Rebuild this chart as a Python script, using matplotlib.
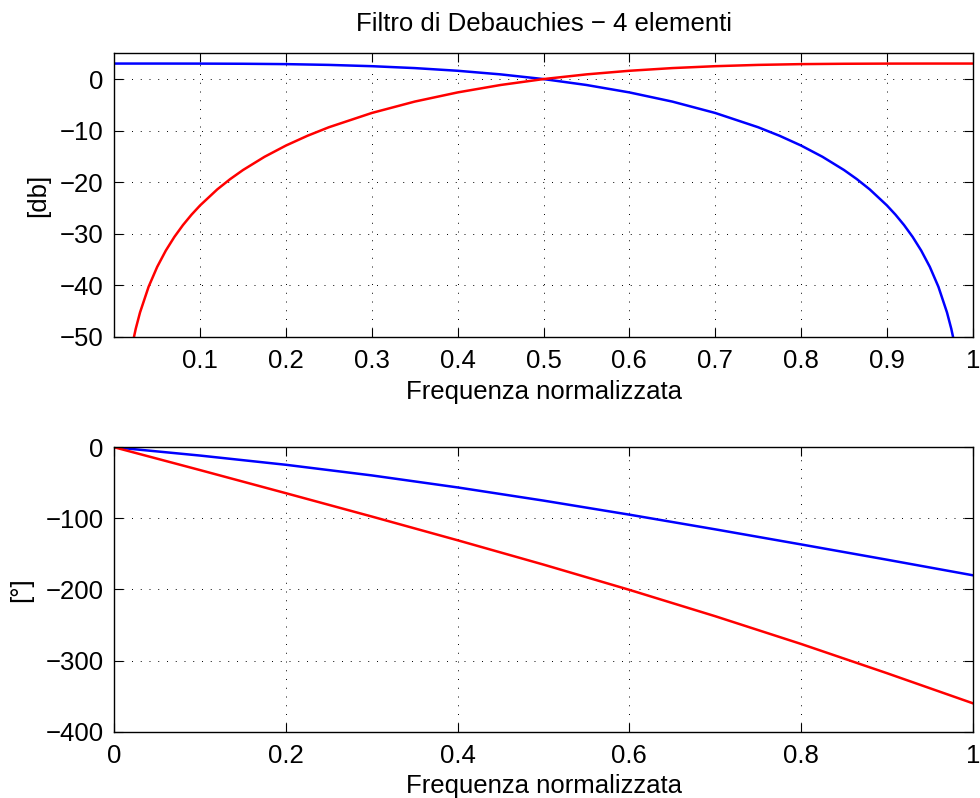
import matplotlib
matplotlib.use("Agg")
import matplotlib.pyplot as plt

plt.rcParams['font.family'] = ['Liberation Sans', 'DejaVu Sans']
plt.rcParams['axes.unicode_minus'] = True

# --- data: magnitude [dB] ---
freq_lo = [0.0, 0.05, 0.1, 0.15, 0.2, 0.25, 0.3, 0.35, 0.4, 0.45, 0.5, 0.55, 0.6,
           0.65, 0.7, 0.75, 0.775, 0.8, 0.825, 0.85, 0.865, 0.88, 0.9, 0.91, 0.92,
           0.93, 0.94, 0.95, 0.96, 0.97, 0.975, 0.98]
mag_lo = [3.01, 3.01, 3.00, 2.97, 2.90, 2.75, 2.50, 2.13, 1.61, 0.91, 0.0, -1.15, -2.59,
          -4.37, -6.58, -9.35, -11.01, -12.90, -15.09, -17.65, -19.42, -21.41, -24.52, -26.32, -28.34,
          -30.64, -33.30, -36.45, -40.31, -45.30, -48.47, -52.34]

freq_hi = [0.02, 0.025, 0.03, 0.04, 0.05, 0.06, 0.07, 0.08, 0.09, 0.1, 0.12, 0.135,
           0.15, 0.175, 0.2, 0.225, 0.25, 0.3, 0.35, 0.4, 0.45, 0.5, 0.55, 0.6,
           0.65, 0.7, 0.75, 0.8, 0.85, 0.9, 0.95, 1.0]
mag_hi = [-52.34, -48.47, -45.30, -40.31, -36.45, -33.30, -30.64, -28.34, -26.32, -24.52, -21.41, -19.42,
          -17.65, -15.09, -12.90, -11.01, -9.35, -6.58, -4.37, -2.59, -1.15, 0.0, 0.91, 1.61,
          2.13, 2.50, 2.75, 2.90, 2.97, 3.00, 3.01, 3.01]

# --- data: phase [deg] ---
freq_ph = [0.0, 0.1, 0.2, 0.3, 0.4, 0.5, 0.6, 0.7, 0.8, 0.9, 1.0]
phase_lo = [0.0, -11.66, -24.63, -39.57, -56.47, -75.0, -94.76, -115.4, -136.62, -158.1, -180.0]
phase_hi = [0.0, -32.1, -64.6, -97.4, -130.8, -165.0, -200.5, -237.6, -276.6, -317.7, -360.0]

title_text = "Filtro di Debauchies \u2212 4 elementi"
xlab = "Frequenza normalizzata"
ylab_top = "[db]"
ylab_bot = "[\u00b0]"

top_xticks = [0.1, 0.2, 0.3, 0.4, 0.5, 0.6, 0.7, 0.8, 0.9, 1.0]
top_xticklabels = ["0.1", "0.2", "0.3", "0.4", "0.5", "0.6", "0.7", "0.8", "0.9", "1"]
top_yticks = [-50, -40, -30, -20, -10, 0]
bot_xticks = [0, 0.2, 0.4, 0.6, 0.8, 1]
bot_xticklabels = ["0", "0.2", "0.4", "0.6", "0.8", "1"]
bot_yticks = [-400, -300, -200, -100, 0]

fig = plt.figure(figsize=(9.8, 7.98), dpi=100)
ax1 = fig.add_axes([0.1166, 0.5781, 0.8760, 0.3551])
ax2 = fig.add_axes([0.1166, 0.0831, 0.8760, 0.3564])

fs = 18.5

def style(ax):
    ax.grid(True, color='black', linestyle=(0, (1, 8)), linewidth=0.7)
    ax.tick_params(direction='in', length=6.5, width=0.8, top=True, right=True,
                   labelsize=fs)
    ax.tick_params(axis='x', pad=9)
    ax.tick_params(axis='y', pad=7.5)
    for s in ax.spines.values():
        s.set_linewidth(1.0)

ax1.plot(freq_lo, mag_lo, color=(0, 0, 1), lw=1.8)
ax1.plot(freq_hi, mag_hi, color=(1, 0, 0), lw=1.8)
ax1.set_xlim(0, 1)
ax1.set_ylim(-50, 5)
ax1.set_xticks(top_xticks)
ax1.set_xticklabels(top_xticklabels)
ax1.set_yticks(top_yticks)
ax1.set_title(title_text, fontsize=fs, pad=16)
ax1.set_xlabel(xlab, fontsize=fs, labelpad=5)
ax1.set_ylabel(ylab_top, fontsize=fs, labelpad=7)
style(ax1)

ax2.plot(freq_ph, phase_lo, color=(0, 0, 1), lw=1.8)
ax2.plot(freq_ph, phase_hi, color=(1, 0, 0), lw=1.8)
ax2.set_xlim(0, 1)
ax2.set_ylim(-400, 0)
ax2.set_xticks(bot_xticks)
ax2.set_xticklabels(bot_xticklabels)
ax2.set_yticks(bot_yticks)
ax2.set_xlabel(xlab, fontsize=fs, labelpad=4.5)
ax2.set_ylabel(ylab_bot, fontsize=fs, labelpad=9)
style(ax2)

fig.savefig("out.png", dpi=100)
